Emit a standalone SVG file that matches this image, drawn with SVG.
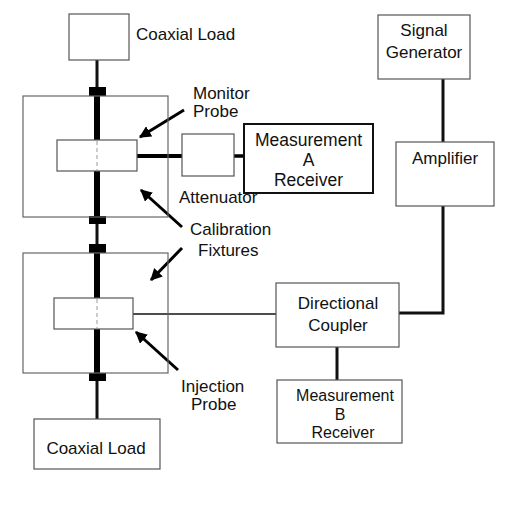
<svg xmlns="http://www.w3.org/2000/svg" width="513" height="511" viewBox="0 0 513 511">
<style>
.box{fill:#fff;stroke:#555;stroke-width:1.2}
.fix{fill:none;stroke:#666;stroke-width:1.2}
.t{font-family:"Liberation Sans",Arial,sans-serif;font-size:17px;fill:#111}
.c{text-anchor:middle}
.thin{stroke:#111;stroke-width:3;fill:none}
.thick{stroke:#000;stroke-width:6;fill:none}
.arr{stroke:#000;stroke-width:3;fill:none;marker-end:url(#ah)}
.dash{stroke:#999;stroke-width:1;stroke-dasharray:4 3}
</style>
<defs>
<marker id="ah" viewBox="0 0 10 10" refX="9" refY="5" markerWidth="4" markerHeight="4" orient="auto" markerUnits="strokeWidth">
<path d="M0,0 L10,5 L0,10 z" fill="#000"/>
</marker>
</defs>
<rect width="513" height="511" fill="#fff"/>
<g id="connectors">
<line class="thin" x1="97" y1="60" x2="97" y2="88"/>
<line class="thick" x1="97" y1="96" x2="97" y2="140"/>
<line class="thick" x1="97" y1="171" x2="97" y2="216"/>
<line class="thin" x1="97" y1="224" x2="97" y2="244"/>
<line class="thick" x1="97" y1="253" x2="97" y2="298"/>
<line class="thick" x1="97" y1="329" x2="97" y2="373"/>
<line class="thin" x1="97" y1="381" x2="97" y2="420"/>
<line stroke="#000" stroke-width="4" x1="137" y1="156" x2="182" y2="156"/>
<line stroke="#000" stroke-width="3.5" x1="234" y1="156" x2="245" y2="156"/>
<line stroke="#111" stroke-width="1.5" x1="133" y1="314" x2="276" y2="314"/>
<polyline class="thin" points="399,313 443,313 443,206"/>
<line class="thin" x1="443" y1="79" x2="443" y2="142"/>
<line class="thin" x1="337" y1="347" x2="337" y2="380"/>
<line class="arr" x1="184" y1="110" x2="140" y2="137"/>
<line class="arr" x1="182" y1="227" x2="141" y2="190"/>
<line class="arr" x1="182" y1="248" x2="151" y2="280"/>
<line class="arr" x1="178" y1="370" x2="136" y2="332"/>
</g>
<g id="connector-blocks">
<rect x="89" y="87" width="17" height="9" fill="#000"/>
<rect x="89" y="216" width="17" height="8" fill="#000"/>
<rect x="89" y="244" width="17" height="9" fill="#000"/>
<rect x="89" y="373" width="17" height="8" fill="#000"/>
</g>
<g id="fixture-upper"><rect class="fix" x="23" y="96" width="145" height="121"/></g>
<g id="fixture-lower"><rect class="fix" x="23" y="253" width="145" height="120"/></g>
<g id="coax-top">
<rect class="box" x="69" y="14" width="60" height="46"/>
<text class="t" x="136" y="40">Coaxial Load</text>
</g>
<g id="monitor-probe">
<rect class="box" x="57" y="140" width="80" height="31"/>
<line class="dash" x1="97" y1="141" x2="97" y2="170"/>
<text class="t" x="193" y="99">Monitor</text>
<text class="t" x="193" y="117">Probe</text>
</g>
<g id="attenuator">
<rect class="box" x="182" y="134" width="52" height="42"/>
<text class="t" x="179" y="203">Attenuator</text>
</g>
<g id="measurement-a">
<rect x="244" y="124" width="129" height="69" fill="#fff" stroke="#111" stroke-width="2"/>
<text class="t c" style="font-size:17.5px" x="308.5" y="146">Measurement</text>
<text class="t c" style="font-size:17.5px" x="308.5" y="166">A</text>
<text class="t c" style="font-size:17.5px" x="308.5" y="186">Receiver</text>
</g>
<g id="calibration-label">
<text class="t" x="190" y="235">Calibration</text>
<text class="t" x="198" y="256">Fixtures</text>
</g>
<g id="injection-probe">
<rect class="box" x="54" y="298" width="79" height="31"/>
<line class="dash" x1="97" y1="299" x2="97" y2="328"/>
<text class="t" x="181" y="392">Injection</text>
<text class="t" x="191" y="410">Probe</text>
</g>
<g id="coax-bottom">
<rect class="box" x="34" y="419" width="126" height="50"/>
<text class="t c" x="96" y="454">Coaxial Load</text>
</g>
<g id="signal-generator">
<rect class="box" x="378" y="15" width="92" height="64"/>
<text class="t c" x="424" y="36">Signal</text>
<text class="t c" x="424" y="58">Generator</text>
</g>
<g id="amplifier">
<rect class="box" x="396" y="142" width="98" height="64"/>
<text class="t c" x="445" y="164">Amplifier</text>
</g>
<g id="directional-coupler">
<rect class="box" x="276" y="283" width="123" height="64"/>
<text class="t c" x="338" y="309">Directional</text>
<text class="t c" x="338" y="331">Coupler</text>
</g>
<g id="measurement-b">
<rect class="box" x="277" y="380" width="125" height="63"/>
<text class="t c" style="font-size:16px" x="345" y="401">Measurement</text>
<text class="t c" style="font-size:16px" x="340" y="419.5">B</text>
<text class="t c" style="font-size:16px" x="343" y="438">Receiver</text>
</g>
</svg>
